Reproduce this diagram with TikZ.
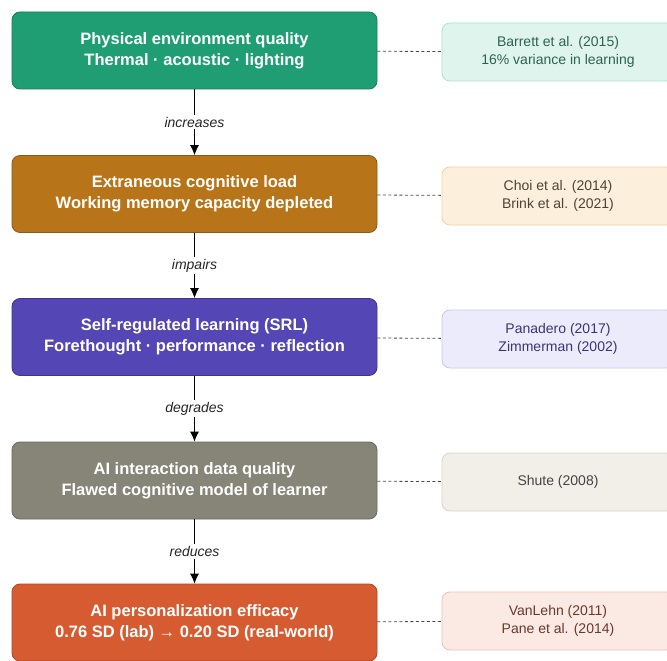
\documentclass[tikz,border=0pt]{standalone}
\usepackage{fontspec}
\setmainfont{Liberation Sans}
\usepackage{tikz}
\usetikzlibrary{arrows.meta,positioning}
\usepackage{xcolor}
\definecolor{envgreen}{HTML}{1F9E74}
\definecolor{envgreenD}{HTML}{177A5A}
\definecolor{loadbrown}{HTML}{B87418}
\definecolor{loadbrownD}{HTML}{8F5A12}
\definecolor{srlpurple}{HTML}{5446B4}
\definecolor{srlpurpleD}{HTML}{3F3490}
\definecolor{datagray}{HTML}{878478}
\definecolor{datagrayD}{HTML}{6B685E}
\definecolor{effred}{HTML}{D75B30}
\definecolor{effredD}{HTML}{B04520}
\definecolor{refgreen}{HTML}{E0F4EE}
\definecolor{refgreenD}{HTML}{A9E2CC}
\definecolor{refgreenT}{HTML}{2C6351}
\definecolor{refbrown}{HTML}{FCEFDC}
\definecolor{refbrownD}{HTML}{F6D09C}
\definecolor{refbrownT}{HTML}{4E4334}
\definecolor{refpurple}{HTML}{ECEBFB}
\definecolor{refpurpleD}{HTML}{C8C4F0}
\definecolor{refpurpleT}{HTML}{3A3570}
\definecolor{refgray}{HTML}{F1EFE8}
\definecolor{refgrayD}{HTML}{D8D5CB}
\definecolor{refgrayT}{HTML}{444444}
\definecolor{refred}{HTML}{FBE9E3}
\definecolor{refredD}{HTML}{F2BFAE}
\definecolor{refredT}{HTML}{6A3A2A}
\tikzstyle{mainbox} = [draw, line width=0.8pt, rounded corners=8pt, minimum width=365pt, minimum height=77pt, inner sep=0pt, align=center, text=white, font=\fontsize{16.5}{21}\selectfont\bfseries]
\tikzstyle{refbox} = [draw, line width=0.8pt, rounded corners=8pt, minimum width=232pt, minimum height=58pt, inner sep=0pt, align=center, font=\fontsize{14}{18}\selectfont]
\tikzstyle{arrow} = [line width=0.8pt, -{Latex[length=10pt,width=9pt]}]
\tikzstyle{link} = [line width=0.8pt, dash pattern=on 3pt off 2.5pt, color=black!70]
\tikzstyle{lbl} = [fill=white, inner sep=2pt, font=\fontsize{14}{16}\selectfont\itshape, text=black!85]

\begin{document}
\begin{tikzpicture}[x=1pt, y=-1pt]
\clip (0,0) rectangle (667,661);
\fill[white] (0,0) rectangle (667,661);
% Causal chain
\node[mainbox, fill=envgreen, draw=envgreenD] (env) at (194.5,50.5) {Physical environment quality\\Thermal · acoustic · lighting};
\node[mainbox, fill=loadbrown, draw=loadbrownD] (load) at (194.5,194) {Extraneous cognitive load\\Working memory capacity depleted};
\node[mainbox, fill=srlpurple, draw=srlpurpleD] (srl) at (194.5,337) {Self-regulated learning (SRL)\\Forethought · performance · reflection};
\node[mainbox, fill=datagray, draw=datagrayD] (data) at (194.5,480.5) {AI interaction data quality\\Flawed cognitive model of learner};
\node[mainbox, fill=effred, draw=effredD] (eff) at (194.5,622.5) {AI personalization efficacy\\0.76 SD (lab) → 0.20 SD (real-world)};

\draw[arrow] (env) -- node[lbl] {increases} (load);
\draw[arrow] (load) -- node[lbl] {impairs} (srl);
\draw[arrow] (srl) -- node[lbl] {degrades} (data);
\draw[arrow] (data) -- node[lbl] {reduces} (eff);

% Supporting studies
\node[refbox, fill=refgreen, draw=refgreenD, text=refgreenT] (barrett) at (558,52) {Barrett et al. (2015)\\16\% variance in learning};
\node[refbox, fill=refbrown, draw=refbrownD, text=refbrownT] (choi) at (558,196) {Choi et al. (2014)\\Brink et al. (2021)};
\node[refbox, fill=refpurple, draw=refpurpleD, text=refpurpleT] (pan) at (558,339) {Panadero (2017)\\Zimmerman (2002)};
\node[refbox, fill=refgray, draw=refgrayD, text=refgrayT] (shute) at (558,482) {Shute (2008)};
\node[refbox, fill=refred, draw=refredD, text=refredT] (vanl) at (558,621) {VanLehn (2011)\\Pane et al. (2014)};

\draw[link] (env) -- (barrett);
\draw[link] (load) -- (choi);
\draw[link] (srl) -- (pan);
\draw[link] (data) -- (shute);
\draw[link] (eff) -- (vanl);
\end{tikzpicture}
\end{document}
